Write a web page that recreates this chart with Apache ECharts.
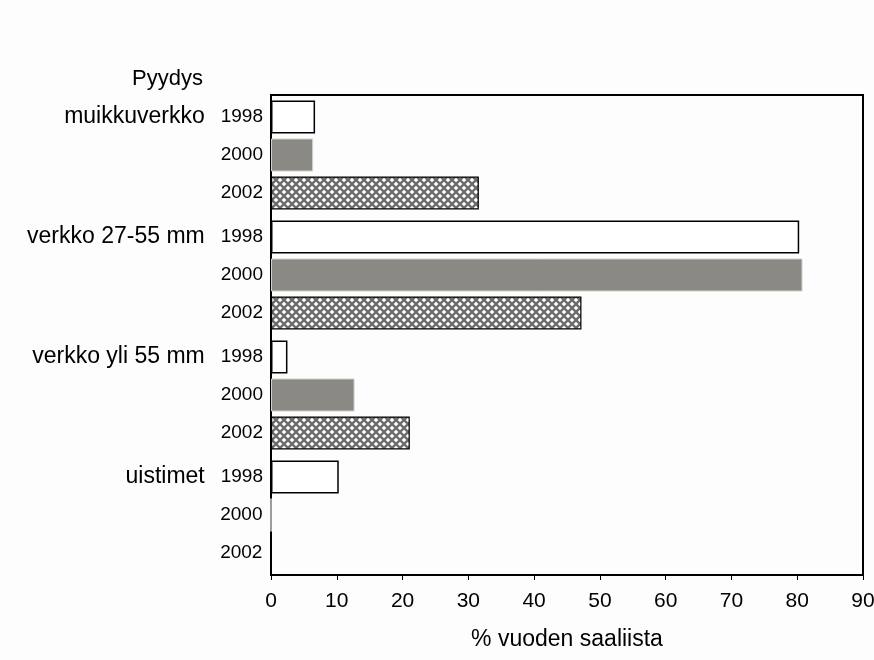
<!DOCTYPE html>
<html>
<head>
<meta charset="utf-8">
<script src="https://cdn.jsdelivr.net/npm/echarts@6/dist/echarts.min.js"></script>
<style>html,body{margin:0;padding:0;background:#fcfdfc;}#c{width:874px;height:660px;}</style>
</head>
<body>
<div id="c"></div>
<script>
const categories = ['muikkuverkko', 'verkko 27-55 mm', 'verkko yli 55 mm', 'uistimet'];
const years = ['1998', '2000', '2002'];
const values1998 = [6.7, 80.3, 2.5, 10.3];
const values2000 = [6.4, 80.8, 12.7, 0];
const values2002 = [31.6, 47.2, 21.1, 0];
const xTicks = [0, 10, 20, 30, 40, 50, 60, 70, 80, 90];

const FONT = '"Liberation Sans", Arial, sans-serif';

// cross-hatch pattern
const tile = document.createElement('canvas');
tile.width = 8; tile.height = 8;
const g = tile.getContext('2d');
g.fillStyle = '#ffffff';
g.fillRect(0, 0, 8, 8);
g.strokeStyle = '#6a6a6a';
g.lineWidth = 2.3;
g.beginPath();
g.moveTo(-1, -1); g.lineTo(9, 9);
g.moveTo(9, -1); g.lineTo(-1, 9);
g.stroke();

const chart = echarts.init(document.getElementById('c'));

const yearLabel = (yr) => ({
  show: true,
  position: 'left',
  distance: 8,
  color: '#000',
  fontFamily: FONT,
  fontSize: 19,
  formatter: () => yr
});

chart.setOption({
  backgroundColor: '#fcfdfc',
  animation: false,
  textStyle: { fontFamily: FONT },
  graphic: [{
    type: 'text',
    right: 874 - 203,
    top: 68,
    style: { text: 'Pyydys', font: '22px "Liberation Sans", Arial, sans-serif', fill: '#000' }
  }],
  grid: {
    left: 271, right: 11, top: 95, bottom: 85,
    containLabel: false,
    outerBoundsMode: 'none',
    show: true, borderColor: '#000', borderWidth: 2, backgroundColor: 'transparent'
  },
  xAxis: {
    type: 'value',
    min: 0, max: 90, interval: 10,
    name: '% vuoden saaliista',
    nameLocation: 'middle',
    nameGap: 53,
    nameTextStyle: { fontFamily: FONT, fontSize: 23, color: '#000' },
    axisLine: { show: true, lineStyle: { color: '#000', width: 2 } },
    axisTick: { show: true, length: 5, lineStyle: { color: '#000', width: 1 } },
    axisLabel: {
      fontFamily: FONT, fontSize: 21, color: '#000', margin: 16,
      formatter: (v) => xTicks.includes(v) ? String(v) : ''
    },
    splitLine: { show: false }
  },
  yAxis: {
    type: 'category',
    data: categories,
    inverse: true,
    axisLine: { show: true, lineStyle: { color: '#000', width: 2 } },
    axisTick: { show: false },
    axisLabel: { show: false },
    splitLine: { show: false }
  },
  series: [
    {
      name: years[0], type: 'bar', data: values1998,
      barWidth: 33, barGap: '15%',
      itemStyle: { color: '#ffffff', borderColor: '#000', borderWidth: 1.5 },
      label: {
        show: true, position: 'left', distance: 8,
        formatter: (p) => '{g|' + p.name + '}{y|' + years[0] + '}',
        rich: {
          g: { fontFamily: FONT, fontSize: 23, color: '#000', padding: [0, 16, 0, 0] },
          y: { fontFamily: FONT, fontSize: 19, color: '#000' }
        }
      }
    },
    {
      name: years[1], type: 'bar', data: values2000,
      barWidth: 33, barGap: '15%',
      itemStyle: { color: '#8a8983', borderColor: '#d0d0cc', borderWidth: 1 },
      label: yearLabel(years[1])
    },
    {
      name: years[2], type: 'bar', data: values2002,
      barWidth: 33, barGap: '15%',
      itemStyle: { color: { image: tile, repeat: 'repeat' }, borderColor: '#000', borderWidth: 1.2 },
      label: yearLabel(years[2])
    }
  ]
});
</script>
</body>
</html>
